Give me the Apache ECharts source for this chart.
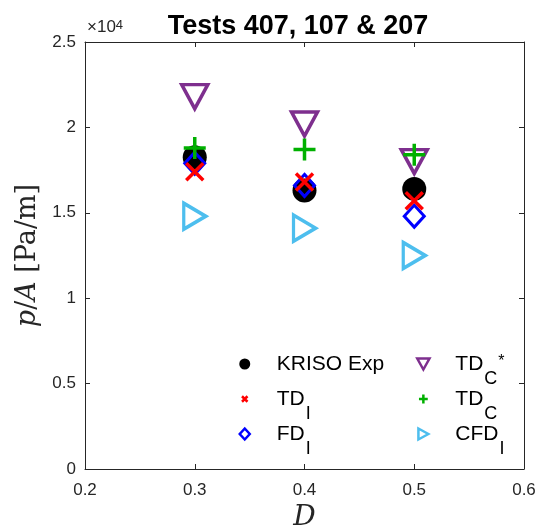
<!DOCTYPE html>
<html>
<head>
<meta charset="utf-8">
<script src="https://cdn.jsdelivr.net/npm/echarts@6/dist/echarts.min.js"></script>
<style>
  html, body { margin: 0; padding: 0; background: #fff; }
  #chart { width: 539px; height: 531px; }
</style>
</head>
<body>
<div id="chart"></div>
<script>
// draft ratio values D and p/A in Pa/m
const dValues = [0.3, 0.4, 0.5];
const krisoExp = [18250, 16300, 16400];
const tdI = [17400, 16800, 15700];
const fdI = [17900, 16600, 14800];
const tdCStar = [21800, 20200, 18000];
const tdC = [18800, 18700, 18400];
const cfdI = [14800, 14100, 12500];

const xTicks = [0.2, 0.3, 0.4, 0.5, 0.6];
const yTicks = [0, 0.5, 1, 1.5, 2, 2.5];

const axisColor = '#262626';
const sans = 'Liberation Sans, Arial, sans-serif';
const serif = 'DejaVu Serif, Liberation Serif, serif';

const SYM = {
    triDown: 'path://M0,0L20,0L10,18Z',
    triRight: 'path://M0,0L18,10L0,20Z',
    diamond: 'path://M10,0L20,11L10,22L0,11Z',
    plus: 'path://M10,0L10,20M0,10L20,10',
    cross: 'path://M0,0L20,20M0,20L20,0'
};

function pts(ys) {
    return dValues.map((d, i) => [d, ys[i]]);
}

function hollow(name, ys, symbol, size, color, width) {
    return {
        name: name,
        type: 'scatter',
        data: pts(ys),
        symbol: symbol,
        symbolSize: size,
        itemStyle: { color: 'rgba(0,0,0,0)', borderColor: color, borderWidth: width, opacity: 1 },
        emphasis: { disabled: true }
    };
}

// TD_I -> TD with subscript I, TD_C* -> TD with subscript C and superscript *
function legendLabel(name) {
    return name.replace(/_([A-Z])(\*)?/, (m, s, star) => '{sub|' + s + '}' + (star ? '{sup|*}' : ''));
}

const legendRich = {
    sub: { fontSize: 18, fontFamily: sans, color: '#000', verticalAlign: 'bottom', lineHeight: 18, padding: [0, 0, 0, 1] },
    sup: { fontSize: 16, fontFamily: sans, color: '#000', verticalAlign: 'top', lineHeight: 16, padding: [14, 0, 0, 1] }
};

function makeLegend(left, names) {
    return {
        orient: 'vertical',
        left: left,
        top: 335,
        itemWidth: 54,
        itemHeight: 11,
        itemGap: -13,
        data: names,
        formatter: legendLabel,
        textStyle: { fontSize: 21, fontFamily: sans, color: '#000', lineHeight: 48, rich: legendRich },
        itemStyle: { borderWidth: 2.5 }
    };
}

const axisCommon = {
    type: 'value',
    splitLine: { show: false },
    axisLine: { show: true, onZero: false, lineStyle: { color: axisColor, width: 1 } },
    axisTick: { show: true, inside: true, length: 5, lineStyle: { color: axisColor } }
};

const option = {
    animation: false,
    backgroundColor: '#fff',
    title: {
        text: 'Tests 407, 107 & 207',
        left: 293,
        textAlign: 'center',
        top: 8,
        textStyle: { fontSize: 27, fontWeight: 'bold', fontFamily: sans, color: '#000' }
    },
    graphic: [{
        type: 'text',
        left: 87,
        top: 19,
        style: {
            text: '×10{s|4}',
            fontSize: 17,
            fontFamily: sans,
            fill: '#262626',
            rich: { s: { fontSize: 13, verticalAlign: 'top', fontFamily: sans, fill: '#262626' } }
        }
    }],
    grid: { left: 85, right: 15, top: 42, bottom: 62, outerBoundsMode: 'none' },
    legend: [
        makeLegend(233, [
            'KRISO Exp',
            { name: 'TD_I', icon: 'path://M0,0M5,5L15,15M5,15L15,5M20,20' },
            'FD_I'
        ]),
        makeLegend(411, [
            'TD_C*',
            { name: 'TD_C', icon: 'path://M0,0M10,2L10,18M2,10L18,10M20,20' },
            'CFD_I'
        ])
    ],
    xAxis: [
        Object.assign({}, axisCommon, {
            min: 0.2, max: 0.6, interval: 0.1,
            name: '{it|D}',
            nameLocation: 'middle',
            nameGap: 34,
            nameTextStyle: { rich: { it: { fontSize: 28, fontStyle: 'italic', fontFamily: serif, color: '#262626' } } },
            axisLabel: {
                fontSize: 17, fontFamily: sans, color: '#262626', margin: 13,
                formatter: v => xTicks.find(t => Math.abs(t - v) < 1e-9) !== undefined ? String(Math.round(v * 10) / 10) : ''
            }
        }),
        Object.assign({}, axisCommon, {
            position: 'top', min: 0.2, max: 0.6, interval: 0.1,
            axisLabel: { show: false }
        })
    ],
    yAxis: [
        Object.assign({}, axisCommon, {
            min: 0, max: 25000, interval: 5000,
            name: '{it|p}/{it|A} [Pa/m]',
            nameLocation: 'middle',
            nameGap: 40,
            nameRotate: 90,
            nameTextStyle: {
                fontSize: 27, fontFamily: serif, color: '#262626',
                rich: { it: { fontSize: 27, fontStyle: 'italic', fontFamily: serif, color: '#262626' } }
            },
            axisLabel: {
                fontSize: 17, fontFamily: sans, color: '#262626', margin: 9,
                formatter: v => String(yTicks[Math.round(v / 5000)])
            }
        }),
        Object.assign({}, axisCommon, {
            position: 'right', min: 0, max: 25000, interval: 5000,
            axisLabel: { show: false }
        })
    ],
    series: [
        {
            name: 'KRISO Exp',
            type: 'scatter',
            data: pts(krisoExp),
            symbol: 'circle',
            symbolSize: 24,
            itemStyle: { color: '#000', opacity: 1 },
            emphasis: { disabled: true }
        },
        hollow('FD_I', fdI, SYM.diamond, [20, 22], '#0000FF', 3),
        hollow('TD_I', tdI, SYM.cross, 17, '#FF0000', 3.5),
        hollow('TD_C*', tdCStar, SYM.triDown, [26, 24], '#7E2F8E', 3.5),
        hollow('TD_C', tdC, SYM.plus, 22, '#00B000', 3.5),
        hollow('CFD_I', cfdI, SYM.triRight, [22, 26], '#4DBEEE', 3.5)
    ]
};

const myChart = echarts.init(document.getElementById('chart'), null, { renderer: 'canvas' });
myChart.setOption(option);
window.addEventListener('resize', myChart.resize);
</script>
</body>
</html>
